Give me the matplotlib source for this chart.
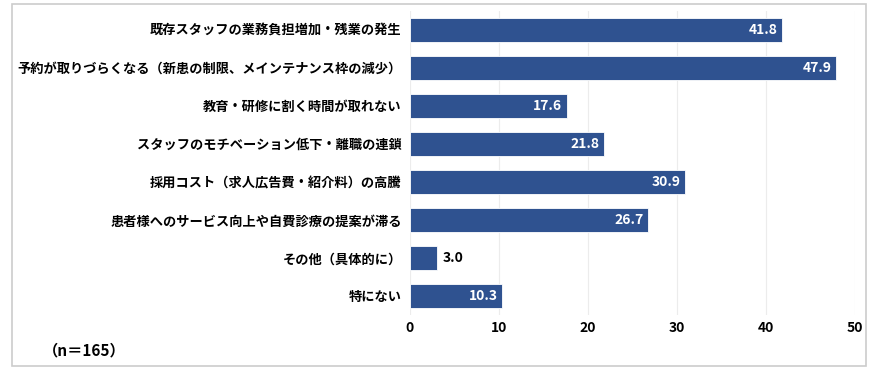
import matplotlib
matplotlib.use("Agg")
import matplotlib.pyplot as plt
from matplotlib.patches import Rectangle

plt.rcParams['font.family'] = ['Noto Sans CJK JP', 'DejaVu Sans']

categories = [
    "既存スタッフの業務負担増加・残業の発生",
    "予約が取りづらくなる（新患の制限、メインテナンス枠の減少）",
    "教育・研修に割く時間が取れない",
    "スタッフのモチベーション低下・離職の連鎖",
    "採用コスト（求人広告費・紹介料）の高騰",
    "患者様へのサービス向上や自費診療の提案が滞る",
    "その他（具体的に）",
    "特にない",
]
values = [41.8, 47.9, 17.6, 21.8, 30.9, 26.7, 3.0, 10.3]
x_ticks = [0, 10, 20, 30, 40, 50]
note = "（n＝165）"

bar_color = "#2f5290"

fig = plt.figure(figsize=(8.77, 3.73), dpi=100)
ax = fig.add_axes([0.4675, 0.1555, 0.5075, 0.8163])

ypos = list(range(len(categories)))
ax.barh(ypos, values, height=0.63, color=bar_color, edgecolor="white", linewidth=0.6, zorder=3)
ax.set_ylim(len(categories) - 0.5, -0.5)
ax.set_xlim(0, 50)
ax.set_xticks(x_ticks)
ax.set_xticklabels([str(t) for t in x_ticks], fontweight="bold", fontsize=10)
ax.set_yticks(ypos)
ax.set_yticklabels(categories, fontweight="bold", fontsize=9.5)
ax.tick_params(axis="both", length=0, pad=6)
ax.tick_params(axis="x", pad=4)
ax.grid(axis="x", color="#ececec", linewidth=0.8, zorder=0)
for s in ax.spines.values():
    s.set_visible(False)

for y, v in zip(ypos, values):
    if v >= 8:
        ax.annotate(f"{v:.1f}", (v, y), xytext=(-3, 0), textcoords="offset points",
                    ha="right", va="center", color="white", fontweight="bold", fontsize=10, zorder=4)
    else:
        ax.annotate(f"{v:.1f}", (v, y), xytext=(4, 0), textcoords="offset points",
                    ha="left", va="center", color="black", fontweight="bold", fontsize=10, zorder=4)

fig.text(43 / 877, 1 - 350 / 373, note, fontweight="bold", fontsize=11, va="center", ha="left")

fig.patches.append(Rectangle((12 / 877, 1 - 366 / 373), 854 / 877, 362 / 373,
                             transform=fig.transFigure, fill=False, edgecolor="#cccccc", linewidth=1.2))

fig.savefig("out.png", dpi=100)
